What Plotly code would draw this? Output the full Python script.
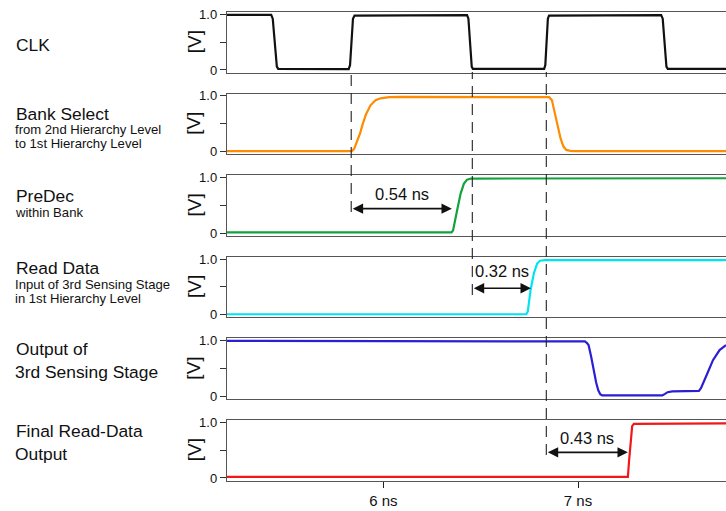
import plotly.graph_objects as go

# ---------------- data (time in ns, voltage in V) ----------------
clk_t = [5.197, 5.424, 5.432, 5.443, 5.453, 5.46, 5.822, 5.829, 5.836, 5.844, 5.852, 6.43, 6.437, 6.446, 6.454, 6.46,
         6.826, 6.832, 6.839, 6.845, 6.851, 7.427, 7.435, 7.444, 7.454, 7.461, 7.76]
clk_v = [0.99, 0.99, 0.92, 0.45, 0.06, 0.02, 0.015, 0.09, 0.55, 0.92, 0.975, 0.985, 0.92, 0.45, 0.06, 0.02,
         0.02, 0.09, 0.55, 0.92, 0.975, 0.985, 0.92, 0.45, 0.06, 0.02, 0.02]

bank_t = [5.197, 5.838, 5.85, 5.865, 5.88, 5.892, 5.91, 5.934, 5.96, 5.986, 6.03, 6.09, 6.852, 6.866, 6.88, 6.895,
          6.91, 6.925, 6.94, 6.96, 6.99, 7.76]
bank_v = [0.01, 0.01, 0.05, 0.17, 0.32, 0.47, 0.66, 0.83, 0.92, 0.955, 0.975, 0.98, 0.975, 0.92, 0.72, 0.47,
          0.24, 0.09, 0.03, 0.012, 0.01, 0.01]

predec_t = [5.197, 6.35, 6.358, 6.368, 6.379, 6.397, 6.414, 6.43, 6.45, 7.76]
predec_v = [0.015, 0.015, 0.05, 0.2, 0.41, 0.71, 0.89, 0.96, 0.98, 0.985]

read_t = [5.197, 6.734, 6.742, 6.756, 6.773, 6.79, 6.805, 6.83, 7.76]
read_v = [0.01, 0.01, 0.06, 0.44, 0.74, 0.92, 0.97, 0.98, 0.98]

out3_t = [5.197, 6.0, 7.035, 7.045, 7.054, 7.067, 7.08, 7.093, 7.104, 7.114, 7.124, 7.433, 7.445, 7.46, 7.484,
          7.6, 7.621, 7.632, 7.647, 7.664, 7.693, 7.727, 7.76]
out3_v = [0.995, 0.99, 0.985, 0.96, 0.92, 0.72, 0.47, 0.25, 0.11, 0.04, 0.02, 0.02, 0.04, 0.075, 0.09,
          0.095, 0.1, 0.15, 0.26, 0.41, 0.65, 0.83, 0.92]

final_t = [5.197, 7.256, 7.262, 7.27, 7.278, 7.287, 7.76]
final_v = [0.02, 0.02, 0.3, 0.7, 0.93, 0.97, 0.98]

signal_names = ["CLK", "Bank Select", "PreDec", "Read Data", "Output of 3rd Sensing Stage", "Final Read-Data Output"]
signal_t = [clk_t, bank_t, predec_t, read_t, out3_t, final_t]
signal_v = [clk_v, bank_v, predec_v, read_v, out3_v, final_v]
signal_colors = ["#111111", "#ff8c00", "#12a33c", "#00e4f2", "#2a1fd2", "#f01818"]

# row labels: (main text, sub lines)
row_labels = [
    ("CLK", []),
    ("Bank Select", ["from 2nd Hierarchy Level", "to 1st Hierarchy Level"]),
    ("PreDec", ["within Bank"]),
    ("Read Data", ["Input of 3rd Sensing Stage", "in 1st Hierarchy Level"]),
    ("Output of", ["3rd Sensing Stage"]),
    ("Final Read-Data", ["Output"]),
]

x_ticks = [6, 7]
x_tick_text = ["6 ns", "7 ns"]
y_ticks = [0, 0.5, 1.0]
y_tick_text = ["0", "", "1.0"]

marker_times = [5.835, 6.457, 6.837]          # dashed reference lines
delays = [  # (row, start, end, label)
    (3, 5.835, 6.352, "0.54 ns"),
    (4, 6.457, 6.758, "0.32 ns"),
    (6, 6.837, 7.256, "0.43 ns"),
]

# ---------------- layout geometry ----------------
W, H = 726, 511
ML = 227
FONT = "Liberation Sans, Arial, sans-serif"
row_top = [12 + 81.6 * i for i in range(6)]
row_h = 60.5
x_range = [5.197, 7.76]
y_range = [-0.045, 1.04]


def py(p):
    return 1 - p / H


def px(p):
    return (p - ML) / (W - ML)


fig = go.Figure()
layout = dict(
    template="none",
    width=W, height=H, margin=dict(l=ML, r=0, t=0, b=0, pad=0, autoexpand=False),
    paper_bgcolor="white", plot_bgcolor="white", showlegend=False,
    font=dict(family=FONT, color="#111", size=13),
)
annotations = []
shapes = []

for i in range(6):
    n = i + 1
    xa = "x" if n == 1 else f"x{n}"
    ya = "y" if n == 1 else f"y{n}"
    fig.add_trace(go.Scatter(x=signal_t[i], y=signal_v[i], mode="lines", name=signal_names[i],
                             line=dict(color=signal_colors[i], width=2.2), xaxis=xa, yaxis=ya,
                             hoverinfo="skip"))
    top, bot = row_top[i], row_top[i] + row_h
    last = (n == 6)
    layout["xaxis" if n == 1 else f"xaxis{n}"] = dict(
        domain=[0, 1], anchor=ya, range=x_range, showgrid=False, zeroline=False, automargin=False,
        showline=True, linecolor="#555", linewidth=1.4, mirror=True,
        tickvals=x_ticks if last else [], ticktext=x_tick_text if last else [],
        ticks="outside" if last else "", ticklen=6, tickwidth=1.4, tickcolor="#222",
        showticklabels=last, tickfont=dict(size=15, color="#111"),
    )
    layout["yaxis" if n == 1 else f"yaxis{n}"] = dict(
        domain=[py(bot), py(top)], anchor=xa, range=y_range, showgrid=False, zeroline=False, automargin=False,
        showline=True, linecolor="#555", linewidth=1.4, mirror=False,
        tickvals=y_ticks, ticktext=y_tick_text, ticks="outside", ticklen=6, tickwidth=1.2,
        tickcolor="#333", tickfont=dict(size=13, color="#111"),
    )
    # [V] unit label
    annotations.append(dict(xref="paper", yref="paper", x=px(194), y=py((top + bot) / 2),
                            text="[V]", showarrow=False, textangle=-90,
                            font=dict(size=19, color="#111"), xanchor="center", yanchor="middle"))

# left-hand signal labels
label_pos = [
    (45, []),
    (114, [129.5, 143.5]),
    (196, [212]),
    (268, [284, 298]),
    (349, [372]),
    (431, [454]),
]
for (main, subs), (my, sys_) in zip(row_labels, label_pos):
    annotations.append(dict(xref="paper", yref="paper", x=px(14), y=py(my), text=main, showarrow=False,
                            xanchor="left", yanchor="middle", font=dict(size=17.4, color="#111")))
    big = (main in ("Output of", "Final Read-Data"))
    for s, sy in zip(subs, sys_):
        annotations.append(dict(xref="paper", yref="paper", x=px(14), y=py(sy), text=s, showarrow=False,
                                xanchor="left", yanchor="middle", borderpad=0,
                                font=dict(size=17.4 if big else 13.1, color="#111")))

# dashed marker lines (paper-y extents)
dash_extent = [(72, 212), (72, 295), (72, 455)]
for t, (y1, y0) in zip(marker_times, dash_extent):
    shapes.append(dict(type="line", xref="x", yref="paper", x0=t, x1=t, y0=py(y0), y1=py(y1),
                       line=dict(color="#222", width=1.1, dash="11px,7px")))

# delay arrows
arrow_y = {3: 0.44, 4: 0.475, 6: 0.46}
text_y = {3: 0.70, 4: 0.79, 6: 0.71}
for row, t0, t1, lab in delays:
    xa = f"x{row}"
    ya = f"y{row}"
    annotations.append(dict(xref=xa, yref=ya, axref=xa, ayref=ya, x=t1, y=arrow_y[row], ax=t0, ay=arrow_y[row],
                            text="", showarrow=True, arrowside="end+start", arrowhead=2, startarrowhead=2,
                            arrowsize=1.3, startarrowsize=1.3, arrowwidth=1.6, arrowcolor="#111"))
    annotations.append(dict(xref=xa, yref=ya, x=(t0 + t1) / 2, y=text_y[row], text=lab, showarrow=False,
                            xanchor="center", yanchor="middle", font=dict(size=16.5, color="#111")))

layout["annotations"] = annotations
layout["shapes"] = shapes
fig.update_layout(**layout)
fig.write_html("out.html", config={"displayModeBar": False},
               post_script="document.body.style.margin='0px';document.body.style.overflow='hidden';")
